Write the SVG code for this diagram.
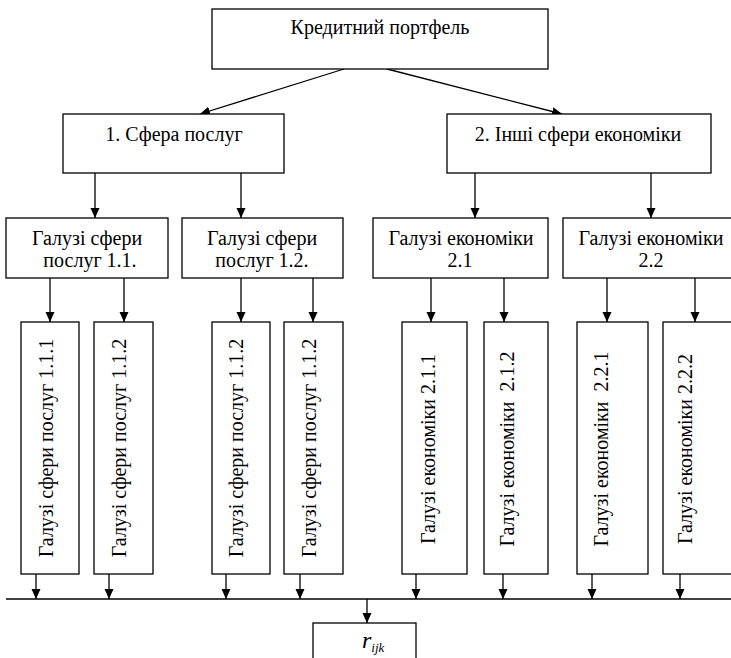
<svg xmlns="http://www.w3.org/2000/svg" width="731" height="658" viewBox="0 0 731 658">
<defs>
<marker id="ah" markerWidth="10" markerHeight="10" refX="10" refY="5" orient="auto" markerUnits="userSpaceOnUse"><path d="M0,0.5 L10,5 L0,9.5 z" fill="#000"/></marker>
<style>
.b{fill:#fff;stroke:#000;stroke-width:1.3}
.t{font-family:"Liberation Serif","Times New Roman",serif;font-size:20px;fill:#000;text-anchor:middle}
.c line{stroke:#000;stroke-width:1.3}
.a{marker-end:url(#ah)}
</style>
</defs>
<rect width="731" height="658" fill="#fff"/>
<g class="c">
<line class="a" x1="344" y1="69" x2="200" y2="114"/>
<line class="a" x1="387" y1="69" x2="562" y2="114"/>
<line class="a" x1="95" y1="173" x2="95" y2="218"/>
<line class="a" x1="241" y1="173" x2="241" y2="218"/>
<line class="a" x1="475" y1="173" x2="475" y2="218"/>
<line class="a" x1="651" y1="173" x2="651" y2="218"/>
<line class="a" x1="50" y1="278" x2="50" y2="322"/>
<line class="a" x1="124" y1="278" x2="124" y2="322"/>
<line class="a" x1="241" y1="278" x2="241" y2="322"/>
<line class="a" x1="313" y1="278" x2="313" y2="322"/>
<line class="a" x1="431" y1="278" x2="431" y2="322"/>
<line class="a" x1="504" y1="278" x2="504" y2="322"/>
<line class="a" x1="607" y1="278" x2="607" y2="322"/>
<line class="a" x1="695" y1="278" x2="695" y2="322"/>
<line class="a" x1="36" y1="574" x2="36" y2="599"/>
<line class="a" x1="109" y1="574" x2="109" y2="599"/>
<line class="a" x1="226" y1="574" x2="226" y2="599"/>
<line class="a" x1="300" y1="574" x2="300" y2="599"/>
<line class="a" x1="416" y1="574" x2="416" y2="599"/>
<line class="a" x1="503" y1="574" x2="503" y2="599"/>
<line class="a" x1="592" y1="574" x2="592" y2="599"/>
<line class="a" x1="680" y1="574" x2="680" y2="599"/>
<line x1="6" y1="599" x2="731" y2="599"/>
<line class="a" x1="367" y1="599" x2="367" y2="623"/>
</g>
<g id="root"><rect class="b" x="212" y="9" width="336" height="60"/><text class="t" x="380" y="34">Кредитний портфель</text></g>
<g id="n1"><rect class="b" x="63" y="114" width="221" height="59"/><text class="t" x="174" y="141">1. Сфера послуг</text></g>
<g id="n2"><rect class="b" x="447" y="114" width="264" height="59"/><text class="t" x="578" y="141">2. Інші сфери економіки</text></g>
<g id="n11"><rect class="b" x="6" y="218" width="162" height="60"/><text class="t" x="87" y="245">Галузі сфери</text><text class="t" x="90" y="267">послуг 1.1.</text></g>
<g id="n12"><rect class="b" x="182" y="218" width="161" height="60"/><text class="t" x="262" y="245">Галузі сфери</text><text class="t" x="262" y="267">послуг 1.2.</text></g>
<g id="n21"><rect class="b" x="373" y="218" width="175" height="60"/><text class="t" x="461" y="245">Галузі економіки</text><text class="t" x="460" y="267">2.1</text></g>
<g id="n22"><rect class="b" x="563" y="218" width="176" height="60"/><text class="t" x="651" y="245">Галузі економіки</text><text class="t" x="651" y="267">2.2</text></g>
<g id="n111"><rect class="b" x="21" y="322" width="58" height="252"/><text class="t" transform="translate(53,448) rotate(-90)">Галузі сфери послуг 1.1.1</text></g>
<g id="n112"><rect class="b" x="94" y="322" width="59" height="252"/><text class="t" transform="translate(126,448) rotate(-90)">Галузі сфери послуг 1.1.2</text></g>
<g id="n121"><rect class="b" x="212" y="322" width="58" height="252"/><text class="t" transform="translate(243,448) rotate(-90)">Галузі сфери послуг 1.1.2</text></g>
<g id="n122"><rect class="b" x="284" y="322" width="59" height="252"/><text class="t" transform="translate(316,448) rotate(-90)">Галузі сфери послуг 1.1.2</text></g>
<g id="n211"><rect class="b" x="402" y="322" width="65" height="252"/><text class="t" transform="translate(435,449) rotate(-90)">Галузі економіки 2.1.1</text></g>
<g id="n212"><rect class="b" x="484" y="322" width="64" height="252"/><text class="t" xml:space="preserve" transform="translate(514,449) rotate(-90)">Галузі економіки  2.1.2</text></g>
<g id="n221"><rect class="b" x="577" y="322" width="71" height="252"/><text class="t" xml:space="preserve" transform="translate(608,449) rotate(-90)">Галузі економіки  2.2.1</text></g>
<g id="n222"><rect class="b" x="663" y="322" width="76" height="252"/><text class="t" transform="translate(692,449) rotate(-90)">Галузі економіки 2.2.2</text></g>
<g id="r"><rect class="b" x="313" y="623" width="103" height="45"/><text class="t" x="362" y="648" style="text-anchor:start;font-style:italic;font-size:24px">r<tspan dy="4" style="font-size:13px">ijk</tspan></text></g>
</svg>
